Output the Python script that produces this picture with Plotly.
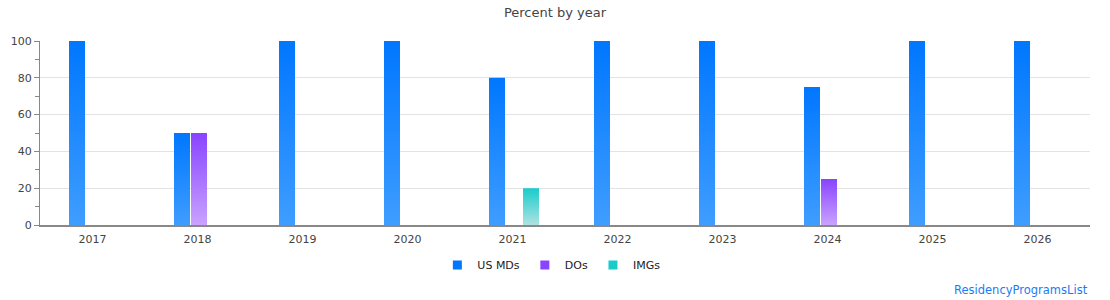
import plotly.graph_objects as go

years = ["2017", "2018", "2019", "2020", "2021", "2022", "2023", "2024", "2025", "2026"]
us_mds = [100, 50, 100, 100, 80, 100, 100, 75, 100, 100]
dos = [0, 50, 0, 0, 0, 0, 0, 25, 0, 0]
imgs = [0, 0, 0, 0, 20, 0, 0, 0, 0, 0]

series = [
    ("US MDs", us_mds, "#0077FF", "#3F9DFF"),
    ("DOs", dos, "#8844FF", "#C9A2FF"),
    ("IMGs", imgs, "#19CCCC", "#AEE2E2"),
]

slot = 17 / 105
width = 16 / 105
shift = 1.5 / 105

fig = go.Figure()
for k, (name, vals, top, bottom) in enumerate(series):
    for i, v in enumerate(vals):
        if v <= 0:
            continue
        c = i + (k - 1) * slot + shift
        x0, x1 = c - width / 2, c + width / 2
        fig.add_trace(go.Scatter(
            x=[x0, x1, x1, x0, x0], y=[0, 0, v, v, 0],
            mode="lines", line=dict(width=0), fill="toself",
            fillgradient=dict(type="vertical", start=0, stop=v,
                              colorscale=[[0, bottom], [1, top]]),
            showlegend=False, hoverinfo="skip",
        ))
    fig.add_trace(go.Scatter(
        x=[None], y=[None], mode="markers", name=name,
        marker=dict(symbol="square", size=9, color=top),
    ))

fig.update_layout(
    width=1110, height=300,
    margin=dict(l=40, r=20, t=41, b=75),
    paper_bgcolor="white", plot_bgcolor="white",
    font=dict(family="DejaVu Sans", size=11, color="#444"),
    title=dict(text="Percent by year", x=0.5, xanchor="center", y=0.96, yanchor="middle",
               font=dict(size=13, color="#444")),
    xaxis=dict(range=[-0.5, 9.5], tickvals=list(range(len(years))), ticktext=years,
               showgrid=False, zeroline=False, showline=True, linecolor="#888", linewidth=1.5,
               ticks="", ticklabelstandoff=3, tickfont=dict(size=11, color="#444"), fixedrange=True),
    yaxis=dict(range=[0, 100], tickvals=[0, 20, 40, 60, 80, 100], showgrid=True,
               gridcolor="#e3e3e3", zeroline=False, showline=True, linecolor="#888", linewidth=1,
               ticks="outside", ticklen=5, tickcolor="#888",
               minor=dict(tickvals=[10, 30, 50, 70, 90], ticks="outside", ticklen=4, tickcolor="#888", showgrid=False),
               tickfont=dict(size=11, color="#444")),
    legend=dict(orientation="h", x=0.487, xanchor="center", y=-0.217, yanchor="middle",
                font=dict(size=11, color="#222"), itemwidth=30),
    annotations=[dict(text="ResidencyProgramsList", xref="paper", yref="paper",
                      x=1.0, xanchor="right", y=-0.355, yanchor="middle", showarrow=False,
                      font=dict(size=11.5, color="#1a7cf5"))],
)

fig.write_html("out.html")
